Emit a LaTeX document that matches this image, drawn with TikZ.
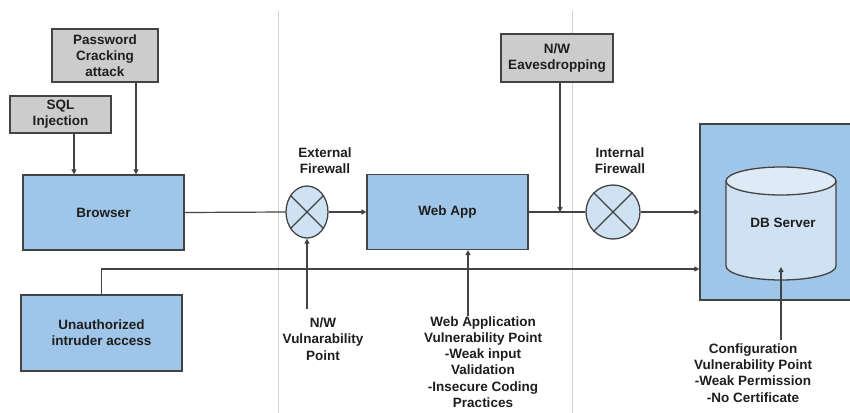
\documentclass[tikz,border=0pt]{standalone}
\usepackage{fontspec}
\setmainfont{Liberation Sans}
\usetikzlibrary{arrows.meta,shapes.geometric}
\definecolor{boxblue}{HTML}{9FC5E8}
\definecolor{lightblue}{HTML}{CFE2F3}
\definecolor{topblue}{HTML}{DEEAF6}
\definecolor{boxgray}{HTML}{CCCCCC}
\definecolor{edge}{HTML}{434343}
\definecolor{divider}{HTML}{D0D0D0}
\definecolor{txt}{HTML}{1E1E1E}
\begin{document}
\begin{tikzpicture}[x=1pt,y=1pt,
  lbl/.style={font=\fontsize{13.5}{16.2}\selectfont\bfseries, text=txt, align=center, inner sep=0pt},
  bluebox/.style={lbl, draw=edge, line width=1.3pt, fill=boxblue, minimum width=161pt, minimum height=75pt},
  graybox/.style={lbl, draw=edge, line width=1.3pt, fill=boxgray},
  fw/.style={draw=edge, line width=1.3pt, fill=lightblue, inner sep=0pt},
  conn/.style={draw=edge, line width=1.2pt},
  arr/.style={conn, -{Triangle[length=5pt,width=5pt]}}
]
\useasboundingbox (0,0) rectangle (850,-412);
\clip (0,0) rectangle (850,-412);
\fill[white] (0,0) rectangle (850,-412);
\draw[divider, line width=0.8pt] (278,-11) -- (278,-415);
\draw[divider, line width=0.8pt] (572,-11) -- (572,-415);

% attack boxes
\node[graybox, minimum width=106pt, minimum height=53pt] (pwd) at (105,-55.5) {Password\\Cracking\\attack};
\node[graybox, minimum width=101pt, minimum height=37pt] (sql) at (60.5,-114.5) {SQL\\Injection};
\node[graybox, minimum width=112pt, minimum height=48pt] (eaves) at (557,-58) {N/W\\Eavesdropping};

% main boxes
\node[bluebox] (browser) at (103.5,-212.5) {Browser};
\node[bluebox] (webapp) at (447.5,-212) {Web App};
\node[bluebox, minimum height=76pt] (intr) at (101.5,-333) {Unauthorized\\intruder access};
\node[draw=edge, line width=1.3pt, fill=boxblue, minimum width=152pt, minimum height=176pt, inner sep=0pt] (db) at (776,-212) {};

% cylinder
\path[fill=lightblue, draw=edge, line width=1.3pt] (726,-181) -- (726,-266)
  arc[start angle=180, end angle=360, x radius=55pt, y radius=14pt] -- (836,-181) -- cycle;
\draw[fill=topblue, draw=edge, line width=1.3pt] (781,-181) ellipse [x radius=55pt, y radius=14pt];
\coordinate (cylbot) at (781,-267);
\node[lbl] (dbtxt) at (783,-223) {DB Server};

% firewalls
\node[fw, ellipse, minimum width=42pt, minimum height=52pt] (ext) at (307,-212) {};
\draw[conn] (ext.45) -- (ext.225) (ext.135) -- (ext.315);
\node[fw, circle, minimum size=54pt] (int) at (613,-212) {};
\draw[conn] (int.45) -- (int.225) (int.135) -- (int.315);

% labels
\node[lbl] (extl) at (325,-161) {External\\Firewall};
\node[lbl] (intl) at (620,-161) {Internal\\Firewall};
\node[lbl] (nwv) at (323,-339) {N/W\\Vulnarability\\Point};
\node[lbl] (webv) at (483,-362) {Web Application\\Vulnerability Point\\-Weak input\\Validation\\-Insecure Coding\\Practices};
\node[lbl] (conf) at (753,-373) {Configuration\\Vulnerability Point\\-Weak Permission\\-No Certificate};

% connectors
\draw[arr] ([xshift=13.5pt]sql.south) -- ([xshift=13.5pt]sql.south |- browser.north);
\draw[arr] ([xshift=31pt]pwd.south) -- ([xshift=31pt]pwd.south |- browser.north);
\draw[conn] (browser.east) -- (ext.west);
\draw[arr] (ext.east) -- (webapp.west);
\draw[conn] (webapp.east) -- (int.west);
\draw[arr] (int.east) -- (db.west);
\draw[arr] ([xshift=3pt]eaves.south) -- ([xshift=3pt]eaves.south |- webapp.east);
\draw[arr] (intr.north) |- ([yshift=-57pt]db.west);
\draw[arr] ([xshift=-16pt,yshift=9pt]nwv.north) -- (ext.south);
\draw[arr] ([xshift=-15pt]webv.north) -- ([xshift=-15pt]webv.north |- webapp.south);
\draw[arr] ([xshift=28pt,yshift=4pt]conf.north) -- (cylbot);
\end{tikzpicture}
\end{document}
